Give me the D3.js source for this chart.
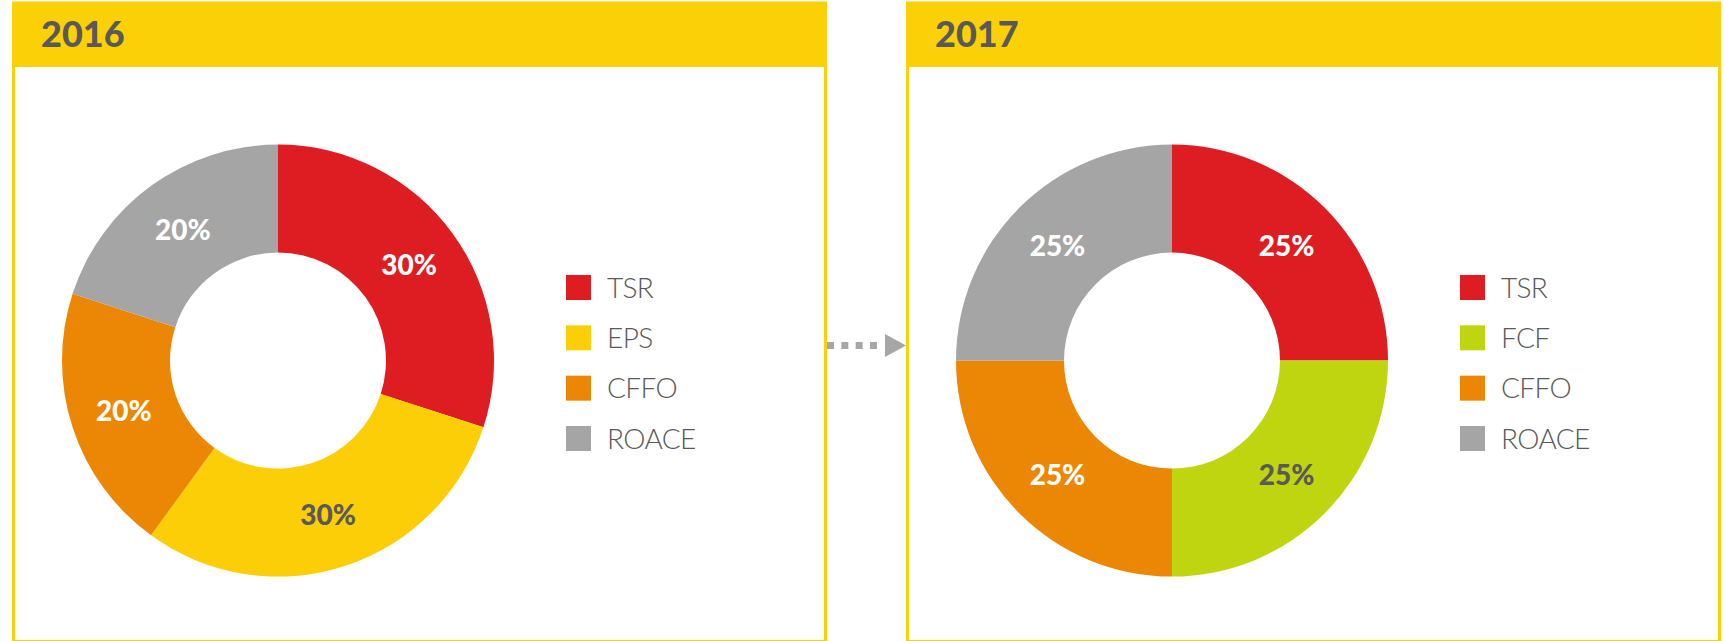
<!DOCTYPE html>
<html>
<head>
<meta charset="utf-8">
<script src="https://cdn.jsdelivr.net/npm/d3@7"></script>
<style>
  html, body { margin: 0; padding: 0; background: #fff; }
  svg { display: block; }
</style>
</head>
<body>
<div id="content"></div>
<script>
// data
const years = ["2016", "2017"];
const categories2016 = ["TSR", "EPS", "CFFO", "ROACE"];
const values2016 = [30, 30, 20, 20];
const categories2017 = ["TSR", "FCF", "CFFO", "ROACE"];
const values2017 = [25, 25, 25, 25];

const allCategories = ["TSR", "EPS", "FCF", "CFFO", "ROACE"];
const color = d3.scaleOrdinal()
  .domain(allCategories)
  .range(["#dd1d21", "#fbce07", "#bed50f", "#eb8705", "#a5a5a5"]);
// dark labels on the light slices
const labelColor = d3.scaleOrdinal()
  .domain(allCategories)
  .range(["#fff", "#595959", "#595959", "#fff", "#fff"]);

const width = 1724, height = 641;
const yellow = "#fcd006";
const textGrey = "#595959";

const svg = d3.select("#content").append("svg")
  .attr("width", width)
  .attr("height", height);

const panelX = [12, 906];
const panelW = 815;
const headerTop = 3, headerH = 64;

const pie = d3.pie().sort(null).value(d => d.value);
const arc = d3.arc().innerRadius(108).outerRadius(216);
const labelArc = d3.arc().innerRadius(162).outerRadius(162);

const legendY = d3.scaleLinear().domain([0, 3]).range([275, 426]);

function drawPanel(i, cats, vals) {
  const g = svg.append("g").attr("transform", `translate(${panelX[i]},0)`);

  // frame
  g.append("rect")
    .attr("x", 1.5).attr("y", headerTop)
    .attr("width", panelW - 3).attr("height", height - headerTop + 0.5)
    .attr("fill", "none")
    .attr("stroke", yellow)
    .attr("stroke-width", 3);

  // header band
  g.append("rect")
    .attr("x", 0).attr("y", headerTop)
    .attr("width", panelW).attr("height", headerH)
    .attr("fill", yellow);

  g.append("text")
    .attr("x", 29).attr("y", 47)
    .attr("font-family", "Lato, 'Open Sans', sans-serif")
    .attr("font-weight", 900)
    .attr("font-size", 36)
    .attr("fill", textGrey)
    .text(years[i]);

  const data = cats.map((c, j) => ({ cat: c, value: vals[j] }));
  const arcs = pie(data);

  const donut = g.append("g").attr("transform", "translate(266,360.6)");
  donut.selectAll("path")
    .data(arcs)
    .join("path")
    .attr("d", arc)
    .attr("fill", d => color(d.data.cat));

  donut.selectAll("text")
    .data(arcs)
    .join("text")
    .attr("transform", d => `translate(${labelArc.centroid(d)})`)
    .attr("text-anchor", "middle")
    .attr("dy", "0.36em")
    .attr("font-family", "Lato, 'Open Sans', sans-serif")
    .attr("font-weight", 900)
    .attr("font-size", 28)
    .attr("fill", d => labelColor(d.data.cat))
    .text(d => d.data.value + "%");

  // legend
  const leg = g.append("g").selectAll("g")
    .data(cats)
    .join("g")
    .attr("transform", (d, j) => `translate(554,${legendY(j)})`);
  leg.append("rect")
    .attr("width", 25).attr("height", 25)
    .attr("fill", d => color(d));
  leg.append("text")
    .attr("x", 41).attr("y", 12.5)
    .attr("dy", "0.36em")
    .attr("font-family", "Lato, 'Open Sans', sans-serif")
    .attr("font-weight", 300)
    .attr("font-size", 28)
    .attr("letter-spacing", -0.6)
    .attr("fill", textGrey)
    .text(d => d);
}

drawPanel(0, categories2016, values2016);
drawPanel(1, categories2017, values2017);

// dotted arrow between the panels
const arrowX = d3.scaleLinear().domain([0, 3]).range([827, 870]);
svg.append("g").selectAll("rect")
  .data(d3.range(4))
  .join("rect")
  .attr("x", d => arrowX(d)).attr("y", 342)
  .attr("width", 7).attr("height", 7)
  .attr("fill", "#a6a6a6");
svg.append("path")
  .attr("d", "M885,334L906,345.5L885,357Z")
  .attr("fill", "#a6a6a6");
</script>
</body>
</html>
